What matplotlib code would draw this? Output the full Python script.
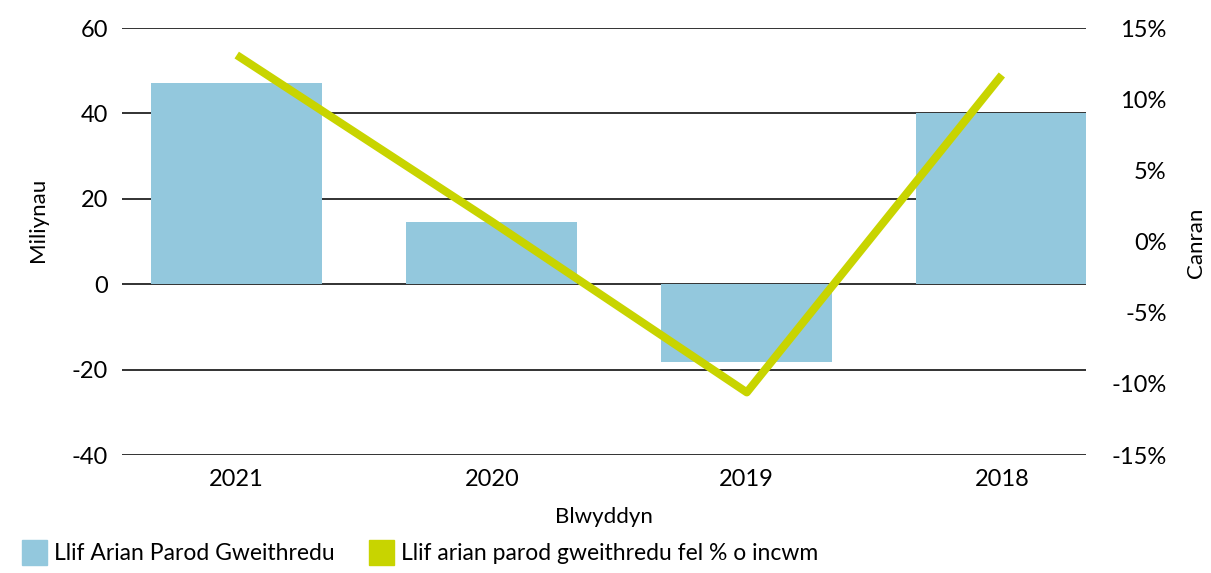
import numpy as np
import matplotlib
matplotlib.use("Agg")
import matplotlib.pyplot as plt
from matplotlib.patches import Patch

# ===== Data =====
years = ["2021", "2020", "2019", "2018"]
cash_flow = [47.1, 14.6, -18.2, 40.0]          # Miliynau
cash_pct = [13.1, 1.4, -10.6, 11.7]            # % o incwm

bar_color = "#93c8dd"
line_color = "#c8d400"
plt.rcParams["font.family"] = ["Lato", "DejaVu Sans"]
plt.rcParams["axes.unicode_minus"] = False

# ===== Plot =====
fig = plt.figure(figsize=(12.11, 5.73), dpi=100)
ax1 = fig.add_axes([0.1007, 0.2059, 0.7961, 0.7452])
x = np.arange(len(years))

ax1.set_axisbelow(True)
ax1.yaxis.grid(True, color="#222222", linewidth=1.3)
ax1.bar(x, cash_flow, width=0.67, color=bar_color, zorder=2)
ax1.set_ylim(-40, 60)
ax1.set_yticks([-40, -20, 0, 20, 40, 60])
ax1.set_xlim(-0.45, 3.33)
ax1.set_xticks(x)
ax1.set_xticklabels(years)
ax1.tick_params(length=0, labelsize=17, pad=10)
ax1.tick_params(axis="x", pad=10)
for s in ax1.spines.values():
    s.set_visible(False)
ax1.set_xlabel("Blwyddyn", fontsize=16, labelpad=12)

ax2 = ax1.twinx()
ax2.plot(x, cash_pct, color=line_color, linewidth=5.8, solid_capstyle="butt", zorder=5)
ax2.set_ylim(-15, 15)
ax2.set_yticks([-15, -10, -5, 0, 5, 10, 15])
ax2.set_yticklabels([f"{v}%" for v in [-15, -10, -5, 0, 5, 10, 15]])
ax2.tick_params(length=0, labelsize=17, pad=58)
for lbl in ax2.get_yticklabels():
    lbl.set_horizontalalignment("right")
for s in ax2.spines.values():
    s.set_visible(False)

fig.text(0.0314, 0.616, "Miliynau", rotation=90, fontsize=16, ha="center", va="center")
fig.text(0.988, 0.576, "Canran", rotation=90, fontsize=16, ha="center", va="center")

handles = [Patch(color=bar_color, label="Llif Arian Parod Gweithredu"),
           Patch(color=line_color, label="Llif arian parod gweithredu fel % o incwm")]
fig.legend(handles=handles, loc="lower left", bbox_to_anchor=(0.001, -0.022),
           ncol=2, frameon=False, fontsize=16.5, handlelength=1.1, handleheight=1.3,
           handletextpad=0.3, columnspacing=1.5)

fig.savefig("out.png", dpi=100)
